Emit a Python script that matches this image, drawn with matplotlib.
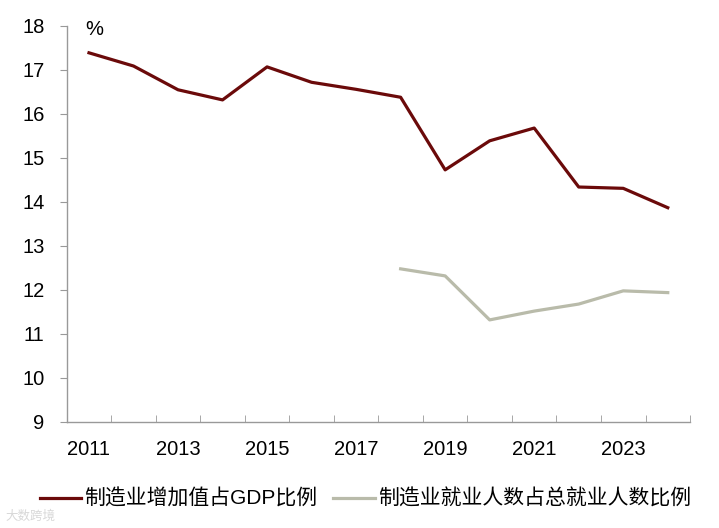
import matplotlib
matplotlib.use("Agg")
import matplotlib.pyplot as plt
import numpy as np

plt.rcParams['font.family'] = ['Liberation Sans', 'Noto Sans CJK SC', 'DejaVu Sans']

years = [2011, 2012, 2013, 2014, 2015, 2016, 2017, 2018, 2019, 2020, 2021, 2022, 2023, 2024]
gdp_share = [17.39, 17.09, 16.55, 16.32, 17.07, 16.72, 16.56, 16.38, 14.73, 15.39, 15.68, 14.34, 14.31, 13.87]
emp_years = [2018, 2019, 2020, 2021, 2022, 2023, 2024]
emp_share = [12.48, 12.32, 11.32, 11.52, 11.68, 11.98, 11.94]
label_gdp = '制造业增加值占GDP比例'
label_emp = '制造业就业人数占总就业人数比例'

fig = plt.figure(figsize=(7.19, 5.28), dpi=100)
ax = fig.add_axes([0.0928, 0.2008, 0.8669, 0.75])

x = np.arange(len(years))
ex = np.array([years.index(y) for y in emp_years])
ax.plot(x, gdp_share, color='#6B0A0A', lw=2.3, label=label_gdp, solid_joinstyle='round')
ax.plot(ex, emp_share, color='#B9BBAA', lw=2.3, label=label_emp, solid_joinstyle='round')

ax.set_xlim(-0.5, len(years) - 0.5)
ax.set_ylim(9, 18)
ax.set_yticks(range(9, 19))
ax.set_xticks(x[::2])
ax.set_xticklabels([str(y) for y in years[::2]])
ax.set_xticks(np.arange(-0.5, len(years)), minor=True)
ax.tick_params(axis='x', which='major', length=0, labelsize=14.5, pad=13)
ax.tick_params(axis='x', which='minor', direction='in', length=5, color='#999999')
ax.tick_params(axis='y', direction='out', length=5, color='#999999', labelsize=14.5, pad=11)

for s in ['top', 'right']:
    ax.spines[s].set_visible(False)
for s in ['left', 'bottom']:
    ax.spines[s].set_color('#999999')
    ax.spines[s].set_linewidth(1.0)

ax.text(0.03, 0.99, '%', transform=ax.transAxes, fontsize=14.5, va='center', ha='left')

fig.legend(loc='center', bbox_to_anchor=(0.508, 0.055), ncol=2, frameon=False,
           fontsize=15, handlelength=2.0, handletextpad=0.15, columnspacing=0.75)

fig.text(0.008, 0.022, '大数跨境', fontsize=9, color='#d8d8d8', ha='left', va='center')

fig.savefig('out.png', dpi=100)
